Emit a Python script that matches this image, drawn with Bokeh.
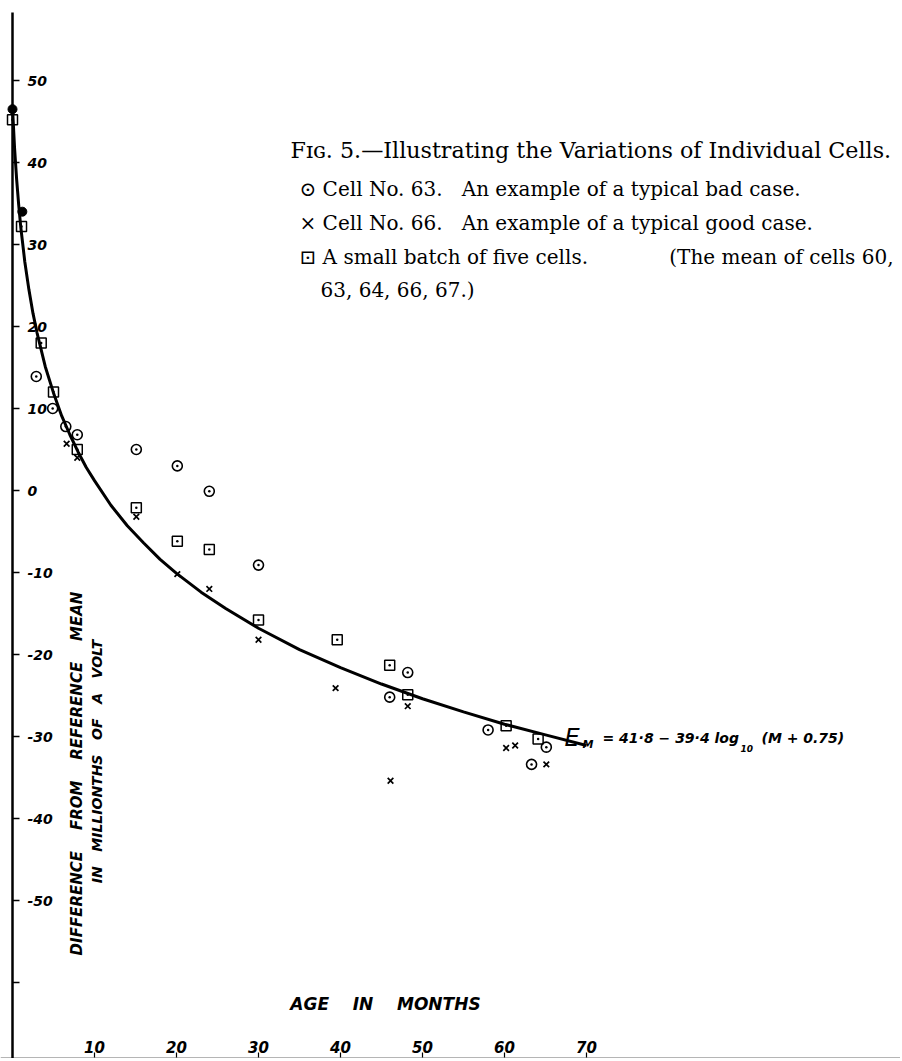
import numpy as np
from bokeh.plotting import figure
from bokeh.models import Range1d, LinearAxis, FixedTicker, Label
from bokeh.embed import file_html
from bokeh.resources import INLINE

# ---------------- data ----------------
# fitted curve  E_M = 41.8 - 39.4 log10(M + 0.75)
curve_months = [0, 0.25, 0.5, 0.75, 1, 1.5, 2, 2.5, 3, 4, 5, 6, 7, 8, 9, 10,
                12, 14, 16, 18, 20, 23, 26, 30, 35, 40, 45, 50, 55, 60, 65, 70]
curve_emf = [46.7, 41.8, 38.0, 34.9, 32.2, 27.9, 24.5, 21.6, 19.2, 15.1, 11.9, 9.1,
             6.8, 4.7, 2.8, 1.2, -1.8, -4.3, -6.4, -8.4, -10.1, -12.4, -14.4, -16.8,
             -19.4, -21.6, -23.6, -25.4, -27.0, -28.5, -29.8, -31.1]

# Cell No. 63 (typical bad case)
cell63_months = [0.0, 1.2, 2.9, 4.9, 6.5, 7.9, 15.1, 20.1, 24.0, 30.0, 46.0, 48.2, 58.0, 63.3, 65.1]
cell63_emf = [46.5, 34.0, 13.9, 10.0, 7.8, 6.8, 5.0, 3.0, -0.1, -9.1, -25.2, -22.2, -29.2, -33.4, -31.3]

# Cell No. 66 (typical good case)
cell66_months = [6.6, 7.9, 15.1, 20.1, 24.0, 30.0, 39.4, 46.1, 48.2, 60.2, 61.3, 65.1]
cell66_emf = [5.7, 4.0, -3.2, -10.2, -12.0, -18.2, -24.1, -35.4, -26.3, -31.4, -31.1, -33.4]

# small batch of five cells (mean of cells 60, 63, 64, 66, 67)
batch_months = [0.0, 1.1, 3.5, 5.0, 7.9, 15.1, 20.1, 24.0, 30.0, 39.6, 46.0, 48.2, 60.2, 64.1]
batch_emf = [45.2, 32.2, 18.0, 12.0, 5.0, -2.1, -6.2, -7.2, -15.8, -18.2, -21.3, -24.9, -28.7, -30.3]

y_ticks = [50, 40, 30, 20, 10, 0, -10, -20, -30, -40, -50, -60]
y_tick_labels = ["50", "40", "30", "20", "10", "0", "-10", "-20", "-30", "-40", "-50", ""]
x_ticks = [10, 20, 30, 40, 50, 60, 70]
x_tick_labels = ["10", "20", "30", "40", "50", "60", "70"]

# ---------------- layout helpers (page pixel -> data) ----------------
SCALE = 8.2          # pixels per unit on both axes
X0_PX, Y0_PX = 12, 490


def dx(px):
    return (px - X0_PX) / SCALE


def dy(py):
    return (Y0_PX - py) / SCALE


W, H = 900, 1058
p = figure(width=W, height=H, output_backend="svg", toolbar_location=None,
           x_range=Range1d(dx(0), dx(W)), y_range=Range1d(dy(H), dy(0)),
           x_axis_location=None, y_axis_location=None, min_border=0)
p.outline_line_color = None
p.background_fill_color = "white"
p.border_fill_color = "white"
p.xgrid.grid_line_color = None
p.ygrid.grid_line_color = None

# vertical axis drawn at M = 0, ticks & labels to its right
yaxis = LinearAxis(fixed_location=0, ticker=FixedTicker(ticks=y_ticks),
                   major_label_overrides={t: l for t, l in zip(y_ticks, y_tick_labels)},
                   bounds=(dy(1064), dy(12)))
yaxis.axis_line_width = 2.5
yaxis.axis_line_color = "black"
yaxis.major_tick_out = 7
yaxis.major_tick_in = 0
yaxis.major_tick_line_width = 1.5
yaxis.minor_tick_out = 0
yaxis.minor_tick_in = 0
yaxis.major_label_standoff = 8
yaxis.major_label_text_font = "DejaVu Sans"
yaxis.major_label_text_font_style = "bold italic"
yaxis.major_label_text_font_size = "14px"
yaxis.major_label_text_color = "black"
p.add_layout(yaxis, "right")

# horizontal axis at the foot, ticks & labels above it
xaxis = LinearAxis(fixed_location=dy(1057), ticker=FixedTicker(ticks=x_ticks),
                   major_label_overrides={t: l for t, l in zip(x_ticks, x_tick_labels)})
xaxis.axis_line_color = "#b5b5b5"
xaxis.axis_line_width = 1
xaxis.major_tick_out = 5
xaxis.major_tick_in = 0
xaxis.major_tick_line_width = 1.2
xaxis.minor_tick_out = 0
xaxis.minor_tick_in = 0
xaxis.major_label_standoff = 0
xaxis.major_label_text_font = "DejaVu Sans"
xaxis.major_label_text_font_style = "bold italic"
xaxis.major_label_text_font_size = "15px"
xaxis.major_label_text_color = "black"
p.add_layout(xaxis, "above")

# fitted curve
p.line(curve_months, curve_emf, line_color="black", line_width=3)

# observations
p.scatter(batch_months, batch_emf, marker="square_dot", size=10, line_color="black",
          line_width=1.5, fill_color=None)
p.scatter(cell63_months[2:], cell63_emf[2:], marker="circle_dot", size=10,
          line_color="black", line_width=1.6, fill_color=None)
p.scatter(cell63_months[:2], cell63_emf[:2], marker="circle", size=9,
          line_color="black", fill_color="black")
p.scatter(cell66_months, cell66_emf, marker="x", size=8, line_color="black", line_width=1.7)

# ---------------- texts ----------------
HAND = "DejaVu Sans"
SERIF = "DejaVu Serif"
NB = "\u00a0"


def lab(px, py, text, size, font=SERIF, style="normal", align="left",
        baseline="middle", angle=0):
    p.add_layout(Label(x=dx(px), y=dy(py), text=text, text_font=font,
                       text_font_size=f"{size}px", text_font_style=style,
                       text_align=align, text_baseline=baseline, angle=angle,
                       text_color="black"))


# caption / key (justified paragraph: right edge at x = 893)
lab(290, 149, "F\u026a\u0262. 5.\u2014Illustrating the Variations of Individual Cells.", 22.2)
lab(299, 188, "\u2299 Cell No. 63." + NB * 3 + "An example of a typical bad case.", 20)
lab(299, 222, "\u00d7 Cell No. 66." + NB * 3 + "An example of a typical good case.", 20)
lab(299, 256, "\u22a1 A small batch of five cells.", 20)
lab(893, 256, "(The mean of cells 60,", 20, align="right")
lab(320, 289, "63, 64, 66, 67.)", 20)

# equation of the curve
lab(564, 737, "E", 24, font=HAND, style="italic", baseline="alphabetic")
lab(582, 744, "M", 11, font=HAND, style="bold italic", baseline="alphabetic")
lab(602, 737, "= 41\u00b78 \u2212 39\u00b74 log", 14, font=HAND, style="bold italic",
    baseline="alphabetic")
lab(740, 748, "10", 9, font=HAND, style="bold italic", baseline="alphabetic")
lab(761, 737, "(M + 0.75)", 14, font=HAND, style="bold italic", baseline="alphabetic")

# axis titles
lab(76, 773, "DIFFERENCE" + NB * 4 + "FROM" + NB * 4 + "REFERENCE" + NB * 4 + "MEAN", 15,
    font=HAND, style="bold italic", align="center", angle=np.pi / 2)
lab(96, 761, "IN" + NB * 3 + "MILLIONTHS" + NB * 3 + "OF" + NB * 3 + "A" + NB * 3 + "VOLT", 14,
    font=HAND, style="bold italic", align="center", angle=np.pi / 2)
lab(385, 1003, "AGE" + NB * 4 + "IN" + NB * 4 + "MONTHS", 17, font=HAND, style="bold italic",
    align="center")

open("out.html", "w").write(file_html(p, INLINE))
